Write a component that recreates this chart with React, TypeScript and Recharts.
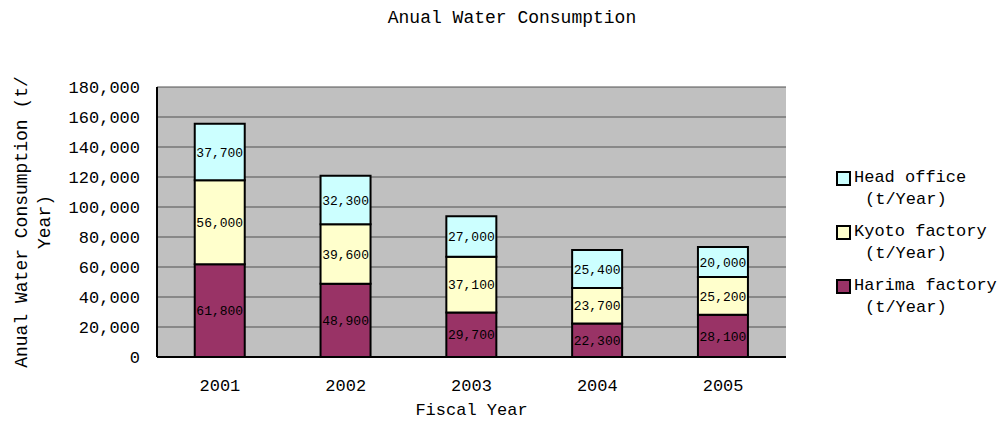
import { Bar, BarChart, CartesianGrid, LabelList, XAxis, YAxis } from "recharts";

const years = ["2001", "2002", "2003", "2004", "2005"];
const harima = [61800, 48900, 29700, 22300, 28100];
const kyoto = [56000, 39600, 37100, 23700, 25200];
const headOffice = [37700, 32300, 27000, 25400, 20000];
const yTicks = [0, 20000, 40000, 60000, 80000, 100000, 120000, 140000, 160000, 180000];

const FONT = "'Liberation Mono', 'DejaVu Sans Mono', monospace";

const data = years.map((year, i) => ({
  year,
  harima: harima[i],
  kyoto: kyoto[i],
  head: headOffice[i],
}));

const legendItems = [
  { name: "Head office", color: "#CCFFFF" },
  { name: "Kyoto factory", color: "#FFFFCC" },
  { name: "Harima factory", color: "#993366" },
];

const fmt = (v: number) => v.toLocaleString("en-US");

function LegendBox() {
  return (
    <div
      style={{
        position: "absolute",
        left: 836,
        top: 167,
        fontFamily: FONT,
        fontSize: 17,
        lineHeight: "22px",
        color: "#000",
      }}
    >
      {legendItems.map((item) => (
        <div key={item.name} style={{ marginBottom: 10 }}>
          <div style={{ display: "flex", alignItems: "center" }}>
            <span
              style={{
                width: 11,
                height: 11,
                background: item.color,
                border: "2px solid #000",
                marginRight: 3,
                display: "inline-block",
              }}
            />
            <span>{item.name}</span>
          </div>
          <div style={{ paddingLeft: 29 }}>(t/Year)</div>
        </div>
      ))}
    </div>
  );
}

export default function App() {
  return (
    <div style={{ position: "absolute", left: 0, top: 0, width: 1008, height: 423, background: "#fff" }}>
      <div
        style={{
          position: "absolute",
          top: 8,
          left: 0,
          width: 1008,
          textAlign: "center",
          fontFamily: FONT,
          fontSize: 18,
          paddingLeft: 16,
          boxSizing: "border-box",
        }}
      >
        Anual Water Consumption
      </div>
      <BarChart
        width={1008}
        height={423}
        data={data}
        margin={{ top: 87, right: 222, bottom: 36, left: 57 }}
        barCategoryGap="30%"
      >
        <CartesianGrid vertical={false} stroke="#505050" fill="#C0C0C0" />
        <XAxis
          dataKey="year"
          height={30}
          tickLine={false}
          tickMargin={16}
          axisLine={{ stroke: "#000", strokeWidth: 2 }}
          tick={{ fill: "#000", fontSize: 17, fontFamily: FONT }}
          label={{
            value: "Fiscal Year",
            position: "bottom",
            offset: 16,
            fill: "#000",
            fontSize: 17,
            fontFamily: FONT,
          }}
        />
        <YAxis
          width={100}
          domain={[0, 180000]}
          ticks={yTicks}
          interval={0}
          tickFormatter={fmt}
          tickLine={false}
          tickMargin={11}
          axisLine={{ stroke: "#000", strokeWidth: 2 }}
          tick={{ fill: "#000", fontSize: 17, fontFamily: FONT }}
          label={{
            content: () => (
              <g fontFamily={FONT} fontSize={18} fill="#000">
                <text x={22} y={222} textAnchor="middle" dominantBaseline="central" transform="rotate(-90 22 222)">
                  Anual Water Consumption (t/
                </text>
                <text x={45} y={222} textAnchor="middle" dominantBaseline="central" transform="rotate(-90 45 222)">
                  Year)
                </text>
              </g>
            ),
          }}
        />
        <YAxis
          yAxisId="frame"
          orientation="right"
          width={0}
          domain={[0, 180000]}
          tick={false}
          tickLine={false}
          axisLine={{ stroke: "#808080", strokeWidth: 1 }}
        />
        <Bar dataKey="harima" stackId="a" fill="#993366" stroke="#000" strokeWidth={2} isAnimationActive={false}>
          <LabelList dataKey="harima" position="center" formatter={fmt} fill="#000" fontSize={13} fontFamily={FONT} />
        </Bar>
        <Bar dataKey="kyoto" stackId="a" fill="#FFFFCC" stroke="#000" strokeWidth={2} isAnimationActive={false}>
          <LabelList dataKey="kyoto" position="center" formatter={fmt} fill="#000" fontSize={13} fontFamily={FONT} />
        </Bar>
        <Bar dataKey="head" stackId="a" fill="#CCFFFF" stroke="#000" strokeWidth={2} isAnimationActive={false}>
          <LabelList dataKey="head" position="center" formatter={fmt} fill="#000" fontSize={13} fontFamily={FONT} />
        </Bar>
      </BarChart>
      <LegendBox />
    </div>
  );
}
